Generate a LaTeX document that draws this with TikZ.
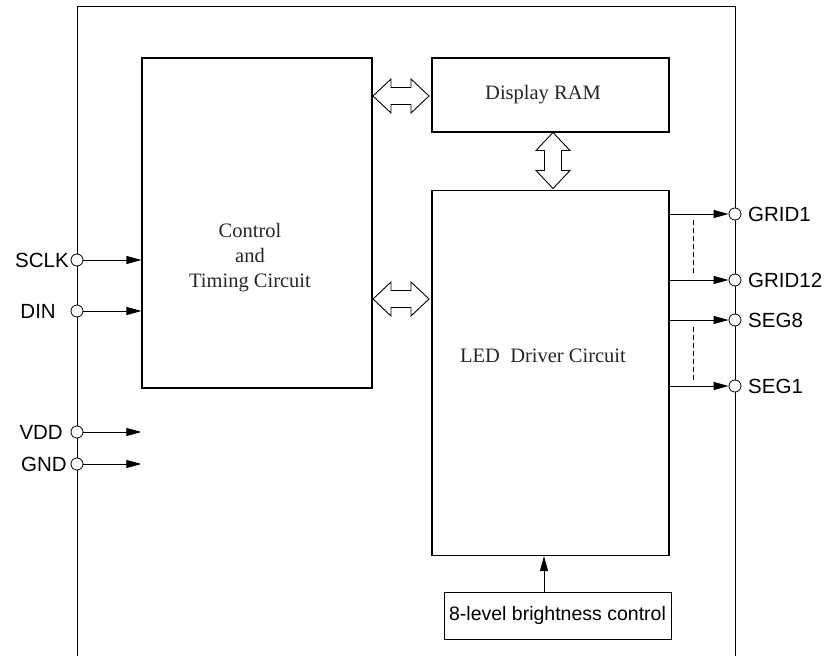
\documentclass[tikz,border=0pt]{standalone}
\usepackage{fontspec}
\setmainfont{Liberation Serif}
\newfontfamily\pinfont{Liberation Sans}
\usetikzlibrary{arrows.meta}

\tikzset{
  blk/.style={draw, line width=1.1pt, inner sep=0pt},
  boxtxt/.style={font=\fontsize{20.5}{25}\selectfont, text=black!85, align=center},
  pin/.style={circle, draw, fill=white, line width=0.8pt, minimum size=12pt, inner sep=0pt},
  pinlbl/.style={font=\pinfont\fontsize{20.5}{24}\selectfont, inner sep=0pt},
  sig/.style={line width=0.9pt, -{Triangle[length=15pt,width=8pt]}},
  dblarr/.pic={\draw[line width=0.9pt] (-28,0) -- (-10,-17) -- (-10,-8.5) -- (10,-8.5)
     -- (10,-17) -- (28,0) -- (10,17) -- (10,8.5) -- (-10,8.5) -- (-10,17) -- cycle;}
}

\begin{document}
\begin{tikzpicture}[x=1pt,y=-1pt]
\useasboundingbox (0,0) rectangle (831,656);

% chip outline
\draw[line width=0.9pt] (77,656) -- (77,6) -- (735,6) -- (735,656);

% blocks
\node[blk, minimum width=230pt, minimum height=330pt] (ctrl) at (257,223) {};
\node[blk, minimum width=237pt, minimum height=74pt] (ram) at (550.5,95) {};
\node[blk, minimum width=237pt, minimum height=365pt] (led) at (550.5,373) {};
\node[blk, line width=0.8pt, minimum width=227pt, minimum height=47pt,
      font=\pinfont\fontsize{19.5}{24}\selectfont] (bright) at (557.5,615.5) {8-level brightness control};

\node[boxtxt] (ctrltxt) at (250,258) {Control\\and\\Timing Circuit};
\node[boxtxt] (ramtxt) at (543,95) {Display RAM};
\node[boxtxt] (ledtxt) at (543,356) {LED\ \ Driver Circuit};

% bus arrows
\pic at (401,96) {dblarr};
\pic at (401,299) {dblarr};
\pic[rotate=90] at (553,160.5) {dblarr};

% input pins
\node[pin] (sclk) at (77,260) {};
\node[pin] (din) at (77,311) {};
\node[pin] (vdd) at (77,432) {};
\node[pin] (gnd) at (77,464) {};
\node[pinlbl, anchor=east] (sclklbl) at (69,260) {SCLK};
\node[pinlbl, anchor=east] (dinlbl) at (56,311) {DIN};
\node[pinlbl, anchor=east] (vddlbl) at (63,432) {VDD};
\node[pinlbl, anchor=east] (gndlbl) at (67,464) {GND};

\draw[sig] (sclk) -- (ctrl.west |- sclk);
\draw[sig] (din) -- (ctrl.west |- din);
\draw[sig] (vdd) -- (ctrl.west |- vdd);
\draw[sig] (gnd) -- (ctrl.west |- gnd);

% output pins
\node[pin] (grid1) at (735,214) {};
\node[pin] (grid12) at (735,280) {};
\node[pin] (seg8) at (735,320) {};
\node[pin] (seg1) at (735,386) {};
\node[pinlbl, anchor=west] (grid1lbl) at (748,214) {GRID1};
\node[pinlbl, anchor=west] (grid12lbl) at (748,280) {GRID12};
\node[pinlbl, anchor=west] (seg8lbl) at (748,320) {SEG8};
\node[pinlbl, anchor=west] (seg1lbl) at (748,386) {SEG1};

\draw[sig] (led.east |- grid1) -- (grid1);
\draw[sig] (led.east |- grid12) -- (grid12);
\draw[sig] (led.east |- seg8) -- (seg8);
\draw[sig] (led.east |- seg1) -- (seg1);

\draw[line width=0.8pt, dash pattern=on 5pt off 3pt] (693,220) -- (693,275);
\draw[line width=0.8pt, dash pattern=on 5pt off 3pt] (693,327) -- (693,382);

% brightness
\coordinate (bx) at (544,0);
\draw[sig] (bright.north -| bx) -- (led.south -| bx);
\end{tikzpicture}
\end{document}
